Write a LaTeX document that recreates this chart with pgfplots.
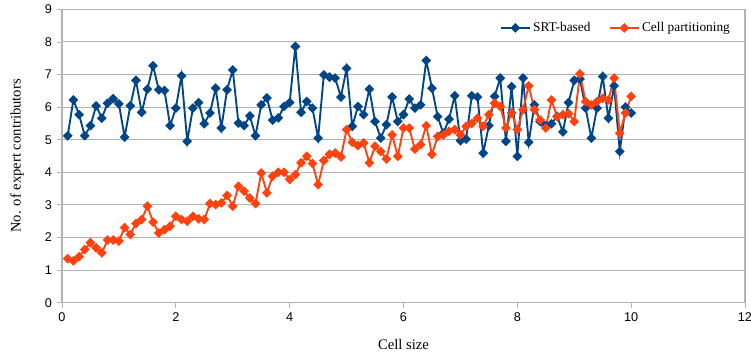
\documentclass[border=0pt]{standalone}
\usepackage{fontspec}
\setmainfont{Liberation Serif}
\newfontfamily\tickfont{Liberation Sans}
\usepackage{pgfplots}
\usepackage{pgfplotstable}
\pgfplotsset{compat=1.18}
\definecolor{srtblue}{HTML}{004586}
\definecolor{cellorange}{HTML}{FF420E}
\definecolor{gridgray}{HTML}{B3B3B3}

\pgfplotstableread{
x srt cell
0.1 5.12 1.35
0.2 6.22 1.28
0.3 5.77 1.41
0.4 5.12 1.63
0.5 5.43 1.84
0.6 6.04 1.68
0.7 5.66 1.53
0.8 6.12 1.92
0.9 6.26 1.92
1.0 6.10 1.89
1.1 5.08 2.30
1.2 6.04 2.09
1.3 6.82 2.43
1.4 5.84 2.55
1.5 6.55 2.96
1.6 7.27 2.47
1.7 6.53 2.14
1.8 6.51 2.24
1.9 5.43 2.35
2.0 5.97 2.65
2.1 6.96 2.55
2.2 4.95 2.50
2.3 5.97 2.65
2.4 6.14 2.57
2.5 5.49 2.55
2.6 5.82 3.04
2.7 6.58 3.01
2.8 5.36 3.06
2.9 6.53 3.29
3.0 7.14 2.96
3.1 5.51 3.57
3.2 5.43 3.42
3.3 5.73 3.21
3.4 5.12 3.04
3.5 6.07 3.98
3.6 6.28 3.37
3.7 5.60 3.88
3.8 5.67 4.00
3.9 6.02 4.00
4.0 6.14 3.78
4.1 7.86 3.93
4.2 5.84 4.29
4.3 6.17 4.49
4.4 5.97 4.27
4.5 5.05 3.62
4.6 6.99 4.36
4.7 6.92 4.55
4.8 6.89 4.59
4.9 6.31 4.47
5.0 7.19 5.31
5.1 5.41 4.92
5.2 6.02 4.82
5.3 5.77 4.90
5.4 6.55 4.29
5.5 5.56 4.80
5.6 5.05 4.64
5.7 5.46 4.41
5.8 6.31 5.15
5.9 5.56 4.49
6.0 5.77 5.36
6.1 6.25 5.36
6.2 5.97 4.71
6.3 6.07 4.85
6.4 7.43 5.43
6.5 6.58 4.55
6.6 5.71 5.10
6.7 5.20 5.15
6.8 5.63 5.26
6.9 6.35 5.31
7.0 4.97 5.15
7.1 5.02 5.41
7.2 6.35 5.50
7.3 6.31 5.66
7.4 4.59 5.41
7.5 5.43 5.77
7.6 6.33 6.12
7.7 6.89 6.02
7.8 4.95 5.36
7.9 6.63 5.82
8.0 4.49 5.31
8.1 6.89 5.92
8.2 4.92 6.65
8.3 6.07 5.92
8.4 5.56 5.61
8.5 5.43 5.36
8.6 5.49 6.22
8.7 5.72 5.70
8.8 5.24 5.77
8.9 6.14 5.80
9.0 6.82 5.56
9.1 6.86 7.02
9.2 5.97 6.17
9.3 5.05 6.07
9.4 5.97 6.17
9.5 6.94 6.27
9.6 5.66 6.22
9.7 6.65 6.89
9.8 4.64 5.20
9.9 6.00 5.82
10.0 5.82 6.33
}\datatable

\begin{document}
\begin{tikzpicture}
\begin{axis}[
  scale only axis,
  width=512.25pt, height=220pt,
  xmin=0, xmax=12, ymin=0, ymax=9,
  xtick={0,2,...,12}, ytick={0,1,...,9},
  tick align=outside, major tick length=4pt,
  xtick pos=bottom, ytick pos=left,
  tick style={gridgray, line width=0.6pt},
  axis line style={gridgray, line width=0.8pt},
  ymajorgrids, grid style={gridgray, line width=0.8pt},
  /pgf/number format/assume math mode=true,
  ticklabel style={font=\fontsize{9.5}{11}\tickfont},
  xlabel={Cell size}, ylabel={No. of expert contributors},
  label style={font=\fontsize{11}{13}\selectfont},
  xlabel style={at={(axis description cs:0.5,-0.142)}, anchor=center},
  ylabel style={at={(axis description cs:-0.066,0.5)}, anchor=center},
  legend style={at={(0.988,0.975)}, anchor=north east, draw=none, fill=none,
    font=\fontsize{10}{12}\selectfont, legend columns=2},
  legend cell align=left,
  /tikz/every even column/.append style={column sep=12pt},
  legend image code/.code={
    \draw[mark repeat=2,mark phase=2,#1] plot coordinates {(0cm,0cm) (0.375cm,0cm) (0.75cm,0cm)};
  },
]
\addplot[srtblue, line width=1.4pt, mark=square*, mark size=1.9pt,
  mark options={rotate=45, solid}] table[x=x, y=srt] {\datatable};
\addlegendentry{SRT-based}
\addplot[cellorange, line width=1.4pt, mark=square*, mark size=1.9pt,
  mark options={rotate=45, solid}] table[x=x, y=cell] {\datatable};
\addlegendentry{Cell partitioning}
\end{axis}
\pgfresetboundingbox
\useasboundingbox (-46.5pt,-42.5pt) rectangle (516.75pt,227pt);
\end{tikzpicture}
\end{document}
